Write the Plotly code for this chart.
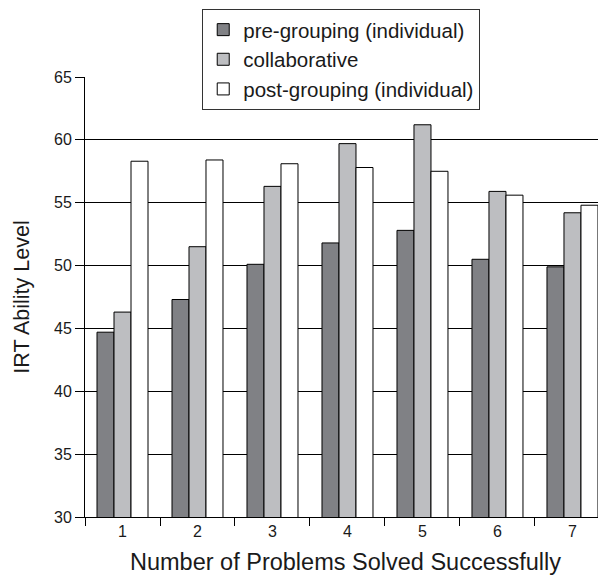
import plotly.graph_objects as go

categories = ["1", "2", "3", "4", "5", "6", "7"]
pre_grouping = [44.7, 47.3, 50.1, 51.8, 52.8, 50.5, 49.9]
collaborative = [46.3, 51.5, 56.3, 59.7, 61.2, 55.9, 54.2]
post_grouping = [58.3, 58.4, 58.1, 57.8, 57.5, 55.6, 54.8]
y_ticks = [30, 35, 40, 45, 50, 55, 60, 65]

series = [
    ("pre-grouping (individual)", pre_grouping, "#808185"),
    ("collaborative", collaborative, "#bdbec1"),
    ("post-grouping (individual)", post_grouping, "#ffffff"),
]

fig = go.Figure()
for i, (name, vals, color) in enumerate(series):
    fig.add_trace(go.Bar(
        x=categories, y=vals, name=name, legendgroup=f"g{i}",
        marker=dict(color=color, line=dict(color="#000000", width=1)),
    ))

FONT = "Liberation Sans, Arial, sans-serif"
TXT = "#1a1a1a"
fig.update_layout(
    width=598, height=568,
    margin=dict(l=77, r=0, t=69, b=59, autoexpand=False),
    paper_bgcolor="white", plot_bgcolor="white",
    barmode="group", bargap=0.32, bargroupgap=0,
    font=dict(family=FONT, color=TXT),
    showlegend=True,
    legend=dict(
        x=0.225, y=1.155, xanchor="left", yanchor="top",
        bordercolor="#333333", borderwidth=1, bgcolor="white",
        font=dict(size=20.5, family=FONT, color=TXT),
        tracegroupgap=9, traceorder="normal",
    ),
    xaxis=dict(
        type="category", range=[-0.5, 6.447], tickson="boundaries",
        ticks="outside", ticklen=8, tickcolor="#000000",
        showline=True, linecolor="#000000", linewidth=1, automargin=False,
        showgrid=False, tickfont=dict(size=16, family=FONT, color=TXT),
        title=dict(text="Number of Problems Solved Successfully",
                   font=dict(size=23.5, family=FONT, color=TXT), standoff=14),
    ),
    yaxis=dict(
        range=[30, 65], tickvals=y_ticks, ticktext=[str(t) for t in y_ticks],
        ticks="outside", ticklen=9, tickcolor="#000000",
        showline=True, linecolor="#000000", linewidth=1, automargin=False,
        showgrid=True, gridcolor="#000000", gridwidth=1,
        zeroline=False, tickfont=dict(size=16, family=FONT, color=TXT),
        title=dict(text="IRT Ability Level",
                   font=dict(size=21.5, family=FONT, color=TXT), standoff=18),
    ),
)

fig.write_html("out.html")
